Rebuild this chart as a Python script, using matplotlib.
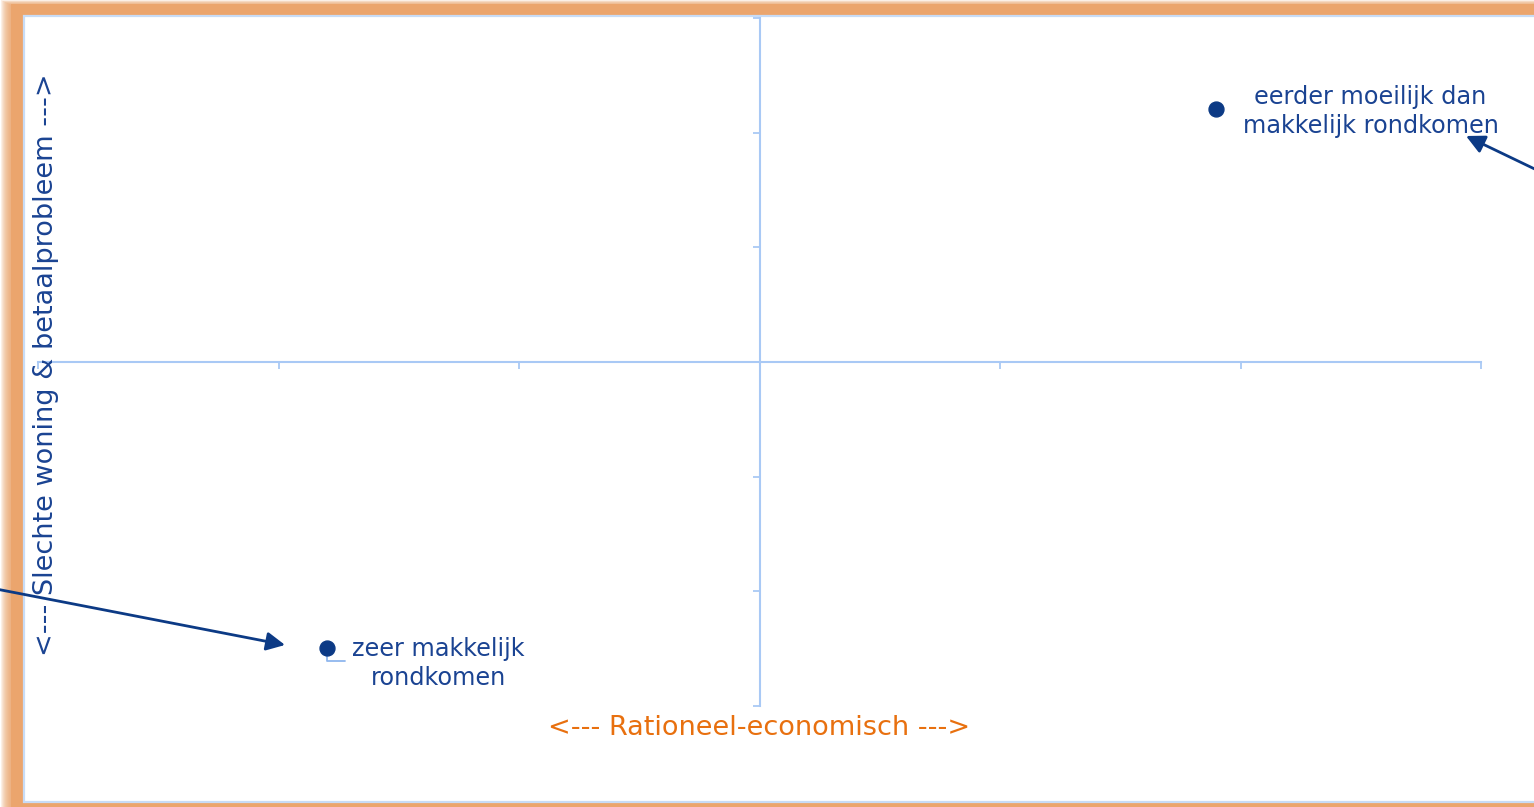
import matplotlib
matplotlib.use("Agg")
import matplotlib.pyplot as plt
from matplotlib.patches import Rectangle
from matplotlib.transforms import IdentityTransform

# data
labels = ["eerder moeilijk dan\nmakkelijk rondkomen", "zeer makkelijk\nrondkomen"]
xs = [1.90, -1.80]
ys = [2.21, -2.49]
label_offsets = [(154, -3), (112, -16)]   # pixels, label centre relative to point
x_ticks = [-3, -2, -1, 0, 1, 2, 3]
y_ticks = [-3, -2, -1, 0, 1, 2, 3]
x_title = "<--- Rationeel-economisch --->"
y_title = "<--- Slechte woning & betaalprobleem --->"

W, H = 1534, 807
axis_col = "#A9C9F5"
dark = "#0C3A85"
text_col = "#1A4392"
orange = "#EBA56D"

fig = plt.figure(figsize=(W / 100, H / 100), dpi=100)
fig.patch.set_facecolor("white")

# orange frame with soft glow, left and top
pix = IdentityTransform()
for k in range(10):
    fig.patches.append(Rectangle((1 + k, -20), 2000, H + 20 - k * 0.5, transform=pix,
                                 facecolor=orange, edgecolor="none", alpha=0.16, zorder=-12))
fig.patches.append(Rectangle((11, -20), 2000, H - 4 + 20, transform=pix,
                             facecolor=orange, edgecolor="none", zorder=-11))
fig.patches.append(Rectangle((24, 5), 2000, H - 16 - 5, transform=pix,
                             facecolor="white", edgecolor="#C8DCF6", lw=1.6, zorder=-10))

ax = fig.add_axes([38 / W, (H - 706) / H, 1443 / W, 688 / H])
ax.set_facecolor("none")
ax.set_xlim(-3, 3)
ax.set_ylim(-3, 3)
for s in ["top", "right"]:
    ax.spines[s].set_visible(False)
ax.spines["left"].set_position(("data", 0))
ax.spines["bottom"].set_position(("data", 0))
for s in ["left", "bottom"]:
    ax.spines[s].set_color(axis_col)
    ax.spines[s].set_linewidth(1.5)
ax.set_xticks(x_ticks)
ax.set_yticks(y_ticks)
ax.tick_params(direction="out", length=5, width=1.3, color=axis_col,
               labelbottom=False, labelleft=False)

ax.scatter(xs, ys, s=115, color=dark, zorder=5, clip_on=False)

for x, y, lab, off in zip(xs, ys, labels, label_offsets):
    ax.annotate(lab, xy=(x, y), xytext=off, textcoords="offset pixels",
                ha="center", va="center", fontsize=17.3, color=text_col,
                linespacing=1.25)

# small leader line from lower point to its label
ax.annotate("", xy=(xs[1], ys[1]), xytext=(18, -13), textcoords="offset pixels",
            arrowprops=dict(arrowstyle="-", color="#8FB6EE", lw=1.3, shrinkA=0, shrinkB=0,
                            connectionstyle="angle,angleA=0,angleB=90,rad=0"))

# pointer arrows coming from outside the chart
arrow_kw = dict(arrowstyle="-|>", color=dark, lw=2.0, mutation_scale=28,
                shrinkA=0, shrinkB=0)
ax.annotate("", xy=(0.9896, 0.8285), xycoords="axes fraction",
            xytext=(1.066, 0.7515), textcoords="axes fraction",
            arrowprops=arrow_kw, annotation_clip=False)
ax.annotate("", xy=(0.1712, 0.0887), xycoords="axes fraction",
            xytext=(-0.054, 0.1802), textcoords="axes fraction",
            arrowprops=arrow_kw, annotation_clip=False)

ax.text(0.4997, -0.032, x_title, transform=ax.transAxes, ha="center", va="center",
        fontsize=19.5, color="#E8700F")
ax.text(0.0055, 0.4956, y_title, transform=ax.transAxes, ha="center", va="center",
        rotation=90, fontsize=19.5, color=text_col)

fig.savefig("out.png", dpi=100)
